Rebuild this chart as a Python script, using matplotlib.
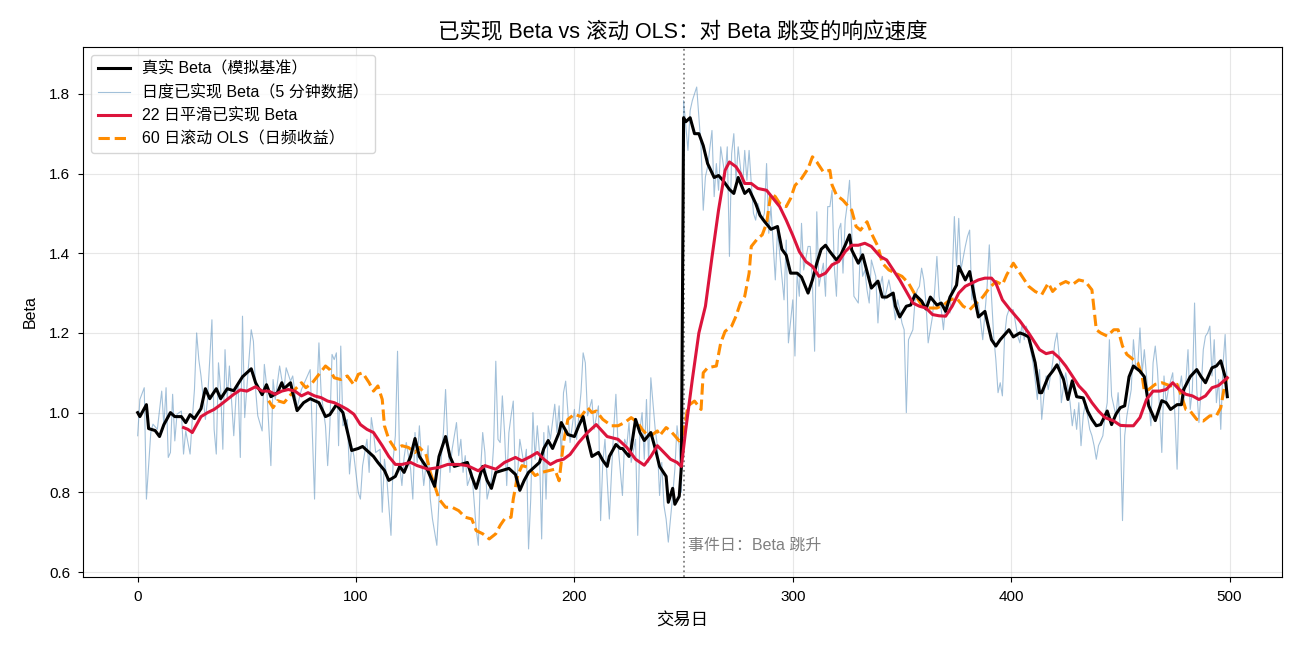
import numpy as np
import matplotlib
matplotlib.use("Agg")
import matplotlib.pyplot as plt

plt.rcParams['font.family'] = ['Liberation Sans', 'Noto Sans CJK SC', 'DejaVu Sans']
plt.rcParams['axes.unicode_minus'] = False

## 真实 Beta（模拟基准）
true_days = [0, 1, 4, 5, 8, 10, 12, 15, 17, 20, 22, 24, 26, 29, 31, 33, 36, 38, 41, 44,
             48, 52, 54, 57, 59, 61, 64, 66, 67, 70, 71, 73, 76, 79, 83, 86, 88, 91, 94, 97,
             98, 101, 103, 106, 108, 110, 113, 115, 118, 120, 122, 125, 127, 129, 132, 134, 136, 138, 141, 143,
             145, 148, 151, 153, 155, 158, 160, 162, 164, 167, 170, 173, 175, 177, 179, 181, 184, 186, 188, 190,
             193, 194, 197, 200, 202, 204, 206, 208, 211, 213, 215, 216, 219, 221, 222, 225, 226, 228, 230, 232,
             235, 237, 239, 242, 243, 245, 246, 248, 249, 250, 251, 253, 255, 257, 259, 261, 264, 266, 268, 271,
             273, 275, 278, 280, 283, 285, 287, 290, 293, 295, 297, 299, 302, 304, 307, 309, 311, 313, 315, 317,
             320, 322, 324, 326, 327, 330, 332, 334, 336, 339, 341, 343, 346, 347, 349, 352, 354, 356, 359, 361,
             363, 366, 368, 370, 372, 375, 376, 379, 381, 383, 385, 388, 391, 393, 395, 399, 401, 404, 406, 408,
             411, 413, 414, 417, 419, 421, 424, 426, 428, 430, 433, 435, 437, 439, 441, 444, 446, 448, 450, 452,
             454, 456, 459, 461, 463, 466, 469, 471, 473, 476, 478, 479, 482, 485, 487, 489, 492, 494, 496, 498,
             499]
true_beta = [1.0, 0.99, 1.02, 0.96, 0.955, 0.94, 0.97, 1.0, 0.99, 0.99, 0.975, 0.995, 0.985, 1.01, 1.06, 1.035, 1.06, 1.035, 1.06, 1.055,
             1.09, 1.11, 1.075, 1.045, 1.07, 1.04, 1.05, 1.075, 1.06, 1.075, 1.05, 1.005, 1.025, 1.035, 1.025, 0.99, 0.995, 1.02, 1.0, 0.93,
             0.905, 0.91, 0.915, 0.90, 0.89, 0.875, 0.855, 0.83, 0.84, 0.865, 0.85, 0.89, 0.935, 0.89, 0.865, 0.84, 0.815, 0.89, 0.94, 0.89,
             0.865, 0.87, 0.875, 0.84, 0.81, 0.865, 0.83, 0.81, 0.85, 0.855, 0.86, 0.845, 0.805, 0.83, 0.85, 0.86, 0.875, 0.91, 0.93, 0.91,
             0.95, 0.975, 0.945, 0.94, 0.967, 0.99, 0.935, 0.89, 0.90, 0.88, 0.865, 0.89, 0.92, 0.91, 0.91, 0.89, 0.91, 0.983, 0.95, 0.93,
             0.95, 0.91, 0.865, 0.84, 0.775, 0.81, 0.77, 0.79, 0.865, 1.74, 1.73, 1.74, 1.70, 1.70, 1.67, 1.625, 1.59, 1.595, 1.583, 1.56,
             1.55, 1.59, 1.55, 1.56, 1.525, 1.495, 1.48, 1.46, 1.467, 1.41, 1.395, 1.35, 1.35, 1.34, 1.30, 1.333, 1.375, 1.41, 1.42, 1.404,
             1.383, 1.396, 1.42, 1.446, 1.408, 1.375, 1.396, 1.354, 1.3125, 1.33, 1.29, 1.29, 1.30, 1.267, 1.24, 1.267, 1.27, 1.296, 1.28, 1.26,
             1.29, 1.27, 1.275, 1.254, 1.29, 1.32, 1.367, 1.333, 1.354, 1.296, 1.24, 1.254, 1.183, 1.167, 1.183, 1.208, 1.19, 1.20, 1.196, 1.19,
             1.125, 1.05, 1.05, 1.09, 1.104, 1.12, 1.083, 1.033, 1.08, 1.04, 1.037, 1.004, 0.983, 0.967, 0.97, 1.004, 0.97, 0.996, 1.0125, 1.017,
             1.09, 1.117, 1.104, 1.09, 1.017, 0.98, 1.03, 1.025, 1.008, 1.02, 1.02, 1.058, 1.09, 1.108, 1.09, 1.075, 1.1125, 1.117, 1.13, 1.09,
             1.04]

## 日度已实现 Beta（5 分钟数据）
daily_days = [0, 1, 3, 4, 6, 7, 9, 11, 12, 13, 14, 15, 16, 17, 18, 20, 21, 22, 24, 25,
              26, 27, 28, 29, 31, 32, 34, 35, 36, 37, 38, 39, 40, 41, 42, 44, 45, 46, 47, 48,
              49, 50, 52, 53, 54, 55, 57, 58, 59, 61, 62, 63, 65, 66, 67, 68, 70, 71, 72, 73,
              75, 77, 79, 81, 82, 83, 84, 86, 87, 88, 89, 90, 91, 92, 93, 94, 96, 97, 98, 99,
              101,
              102, 103, 105, 106, 107, 108, 109, 111, 112, 113, 114, 116, 117, 118, 119, 120, 121, 122, 123, 125,
              126, 127, 128, 129, 130, 131, 133, 134, 135, 136, 137, 138, 139, 140, 141, 142, 143, 144, 146, 147,
              148, 149, 150, 151, 153, 154, 155, 156, 157, 158, 159, 160, 162, 163, 164, 165, 166, 167, 168, 169,
              170, 171, 172, 173, 174, 175, 177, 178, 179, 180, 181, 182, 183, 184, 185, 186, 187, 188, 189, 191,
              192, 193, 194, 195, 196, 197, 198, 199, 200, 201,
              203, 204, 205, 206, 208, 209, 211, 212, 213, 214, 216, 217, 218, 219, 220, 222, 223, 224, 225, 226,
              228, 229, 230, 231, 232, 233, 234, 235, 237, 238, 239, 240, 241, 242, 243, 245, 246, 247, 248, 249,
              250,
              252, 253, 254, 256, 258, 259, 260, 261, 263, 264, 265, 266, 267, 269, 270, 271, 272, 273, 274, 275,
              277, 278, 279, 280, 281, 282, 283, 284, 286, 287, 288, 289, 290, 292, 293, 294, 296, 297, 298, 300,
              301, 302,
              303, 304, 305, 307, 308, 309, 310, 311, 312, 314, 315, 316, 317, 318, 319, 320, 321, 322, 323, 324,
              325, 326, 327, 328, 330, 331, 332, 333, 334, 335, 336, 338, 339, 340, 341, 342, 343, 344, 346, 347,
              348, 349, 350, 351, 352, 353, 355, 356, 357, 358, 359, 360, 361, 362, 364, 365, 366, 367, 368, 369,
              370, 372, 373, 374, 375, 376, 377, 379, 380, 381, 382, 383, 384, 385, 387, 388, 389, 390, 391, 392,
              393, 394, 395, 396, 397, 398, 399, 401, 402, 403,
              404, 405, 406, 407, 408, 410, 411, 412, 413, 414, 415, 416, 417, 419, 420, 421, 422, 423, 424, 425,
              427, 428, 429, 430, 431, 432, 433, 434, 436, 437, 438, 439, 440, 442, 443, 444, 445, 446, 447, 448,
              449, 450, 451, 452, 453, 455, 456, 457, 458, 459, 460, 461, 463, 464, 465, 466, 467, 468, 469, 470,
              471, 472, 474, 475, 476, 477, 478, 479, 480, 481, 482, 483, 484, 485, 486, 487, 488, 489, 490, 491,
              492, 493, 494, 495, 496, 497, 498, 499]
daily_beta = [0.942, 1.033, 1.0625, 0.783, 0.95, 0.971, 0.958, 1.054, 0.967, 1.0625, 0.8875, 0.9, 1.046, 0.929, 0.996, 1.004, 0.896, 0.954, 0.896, 0.983,
              1.058, 1.2, 1.133, 1.092, 0.983, 1.033, 1.233, 0.958, 0.896, 1.125, 1.058, 0.908, 1.158, 1.033, 1.117, 0.942, 1.0375, 1.067, 0.8875, 1.242,
              0.9875, 1.0625, 1.208, 1.179, 1.058, 0.992, 0.954, 1.121, 1.071, 0.867, 1.083, 1.033, 1.117, 1.083, 1.058, 1.1125, 1.079, 1.092, 1.05, 1.0125,
              1.058, 1.083, 1.108, 0.783, 1.033, 1.175, 1.05, 0.967, 0.867, 0.967, 1.146, 1.133, 1.15, 0.917, 1.167, 0.967, 0.983, 0.846, 0.917, 0.892,
              0.8,
              0.783, 0.867, 0.933, 0.85, 0.9875, 0.95, 0.9, 0.908, 0.75, 0.883, 0.842, 0.692, 0.883, 0.942, 1.154, 0.867, 0.817, 0.8875, 0.925, 0.858,
              0.783, 0.95, 0.875, 0.967, 0.883, 0.817, 0.917, 0.783, 0.733, 0.7, 0.667, 0.783, 0.883, 0.95, 1.058, 0.925, 0.85, 0.908, 0.975, 0.892,
              0.933, 0.85, 0.892, 0.817, 0.85, 0.783, 0.708, 0.667, 0.85, 0.95, 0.9, 0.783, 0.833, 0.917, 1.129, 0.933, 0.925, 1.042, 0.95, 0.817,
              0.95, 0.992, 1.029, 0.817, 0.85, 0.933, 0.867, 0.908, 0.658, 0.783, 1.0, 0.883, 0.967, 0.9, 0.683, 0.95, 0.783, 0.967, 0.933, 1.021,
              0.95, 1.017, 0.883, 1.05, 1.079, 1.0, 0.925, 0.967, 1.008, 0.933,
              1.05, 1.15, 1.125, 0.992, 1.033, 0.958, 1.017, 0.729, 0.875, 0.933, 0.733, 0.85, 0.958, 1.046, 0.917, 0.792, 0.933, 0.917, 0.975, 0.875,
              0.933, 0.692, 0.958, 1.0, 0.883, 1.033, 0.875, 1.0875, 0.958, 0.917, 0.792, 0.875, 0.767, 0.733, 0.675, 0.792, 0.858, 0.967, 0.917, 0.8,
              1.783,
              1.658, 1.758, 1.783, 1.817, 1.667, 1.508, 1.592, 1.617, 1.708, 1.542, 1.625, 1.558, 1.667, 1.592, 1.667, 1.392, 1.65, 1.7, 1.583, 1.667,
              1.567, 1.658, 1.583, 1.658, 1.575, 1.5, 1.483, 1.525, 1.483, 1.5, 1.625, 1.45, 1.517, 1.333, 1.458, 1.4, 1.283, 1.433, 1.175, 1.283,
              1.142, 1.35,
              1.292, 1.475, 1.358, 1.417, 1.417, 1.325, 1.154, 1.504, 1.317, 1.375, 1.292, 1.517, 1.517, 1.558, 1.367, 1.292, 1.458, 1.475, 1.35, 1.483,
              1.525, 1.583, 1.458, 1.292, 1.275, 1.417, 1.342, 1.358, 1.308, 1.275, 1.383, 1.342, 1.225, 1.317, 1.342, 1.283, 1.308, 1.333, 1.275, 1.233,
              1.283, 1.258, 1.225, 1.208, 1.0, 1.183, 1.208, 1.283, 1.308, 1.317, 1.3625, 1.333, 1.275, 1.175, 1.242, 1.308, 1.392, 1.292, 1.258, 1.208,
              1.275, 1.25, 1.333, 1.492, 1.367, 1.4875, 1.358, 1.417, 1.442, 1.458, 1.283, 1.325, 1.258, 1.275, 1.183, 1.25, 1.317, 1.421, 1.292, 1.192,
              1.133, 1.05, 1.075, 1.042, 1.192, 1.242, 1.258, 1.258, 1.225, 1.192,
              1.175, 1.225, 1.183, 1.217, 1.183, 1.125, 1.083, 1.033, 1.108, 0.983, 1.042, 1.092, 1.058, 1.125, 1.175, 1.2, 1.142, 1.025, 1.067, 1.1,
              1.025, 0.967, 1.008, 0.958, 1.025, 0.917, 0.992, 1.025, 0.958, 0.942, 0.917, 0.883, 0.917, 0.942, 0.992, 1.025, 1.183, 1.042, 1.017, 0.992,
              1.05, 0.958, 0.729, 0.942, 0.992, 1.058, 1.183, 1.117, 1.117, 1.2125, 1.1, 1.158, 1.025, 0.967, 1.125, 1.167, 1.108, 1.008, 0.9, 1.092,
              1.025, 1.058, 1.1, 0.992, 0.858, 1.058, 1.092, 1.025, 1.075, 1.158, 1.008, 1.058, 1.275, 1.058, 0.975, 1.058, 1.158, 1.192, 1.2, 1.217,
              1.092, 1.183, 1.025, 1.083, 0.958, 1.117, 1.196, 1.058]

## 22 日平滑已实现 Beta
smooth_days = [21, 23, 25, 27, 29, 32, 35, 38, 41, 44, 47, 50, 54, 57, 60, 63, 66, 69, 72, 75,
               78, 81, 84, 87, 90, 93, 96, 99, 102, 105, 108, 112, 115, 118, 121, 125, 128, 133, 138, 142,
               147, 151, 156, 159, 164, 168, 173, 176, 180, 183, 186, 189, 192, 195, 198, 202, 206, 210, 212, 215,
               220, 224, 228, 232, 235, 238, 241, 244, 247, 249, 251, 254, 257, 260, 263, 266, 269, 271, 274, 276,
               278, 281, 284, 288, 291, 294, 297, 300, 303, 306, 309, 312, 315, 318, 321, 324, 327, 330, 333, 336,
               340, 343, 346, 349, 352, 355, 358, 361, 364, 367, 370, 373, 376, 379, 382, 385, 388, 391, 393, 396,
               399, 404, 408, 413, 416, 419, 422, 425, 428, 431, 434, 437, 440, 443, 447, 450, 453, 456, 459, 462,
               465, 468, 471, 474, 477, 480, 483, 486, 489, 492, 495, 499]
smooth_beta = [0.9625, 0.958, 0.95, 0.97, 0.99, 1.0, 1.008, 1.02, 1.033, 1.046, 1.057, 1.054, 1.065, 1.054, 1.054, 1.046, 1.054, 1.058, 1.054, 1.042,
               1.05, 1.042, 1.0375, 1.029, 1.025, 1.017, 1.008, 0.996, 0.97, 0.958, 0.95, 0.917, 0.89, 0.87, 0.87, 0.875, 0.867, 0.858, 0.8625, 0.87,
               0.87, 0.867, 0.854, 0.867, 0.858, 0.875, 0.8875, 0.879, 0.89, 0.90, 0.883, 0.87, 0.879, 0.883, 0.895, 0.925, 0.95, 0.97, 0.958, 0.94,
               0.933, 0.9125, 0.883, 0.868, 0.89, 0.917, 0.90, 0.883, 0.875, 0.865, 0.958, 1.083, 1.2, 1.267, 1.39, 1.508, 1.608, 1.629, 1.617, 1.6,
               1.575, 1.575, 1.5625, 1.558, 1.5375, 1.517, 1.483, 1.445, 1.404, 1.379, 1.367, 1.342, 1.35, 1.371, 1.379, 1.404, 1.42, 1.42, 1.425, 1.417,
               1.392, 1.383, 1.358, 1.333, 1.304, 1.275, 1.267, 1.2625, 1.246, 1.243, 1.242, 1.267, 1.30, 1.317, 1.325, 1.333, 1.3375, 1.3375, 1.325, 1.283,
               1.262, 1.23, 1.2, 1.158, 1.148, 1.152, 1.1375, 1.117, 1.092, 1.067, 1.05, 1.025, 1.004, 0.9875, 0.979, 0.968, 0.967, 0.967, 0.9875, 1.033,
               1.054, 1.054, 1.058, 1.075, 1.058, 1.046, 1.042, 1.033, 1.042, 1.0625, 1.068, 1.0875]

## 60 日滚动 OLS（日频收益）
ols_days = [60, 62, 64, 67, 69, 72, 75, 77, 80, 83, 86, 88, 90, 93, 96, 99, 101, 103, 106, 108,
            110, 112, 113, 115, 118, 121, 124, 127, 129, 132, 134, 136, 138, 141, 144, 147, 150, 153, 155, 158,
            161, 164, 166, 168, 171, 172, 174, 176, 179, 182, 185, 188, 191, 193, 195, 197, 200, 203, 206, 208,
            210, 213, 215, 217, 220, 223, 226, 229, 231, 233, 235, 238, 239, 242, 244, 246, 248, 250, 252, 255,
            258, 259, 261, 265, 267, 269, 272, 274, 276, 278, 280, 281, 284, 286, 288, 290, 292, 294, 297, 299,
            301, 304, 307, 309, 311, 314, 317, 318, 320, 323, 327, 329, 331, 334, 336, 339, 341, 344, 347, 350,
            353, 356, 359, 362, 366, 369, 372, 375, 378, 381, 384, 387, 390, 393, 396, 398, 401, 404, 406, 408,
            411, 414, 417, 419, 422, 425, 428, 431, 434, 437, 438, 439, 441, 444, 447, 449, 451, 453, 456, 458,
            460, 461, 463, 466, 469, 473, 476, 478, 480, 482, 485, 488, 491, 494, 496, 498, 499]
ols_beta = [1.03, 1.0125, 1.03, 1.025, 1.0375, 1.058, 1.075, 1.0625, 1.075, 1.096, 1.117, 1.108, 1.0875, 1.083, 1.092, 1.07, 1.096, 1.1, 1.075, 1.054,
            1.067, 1.033, 0.967, 0.933, 0.908, 0.917, 0.9125, 0.90, 0.9125, 0.896, 0.85, 0.817, 0.783, 0.7625, 0.7625, 0.754, 0.7375, 0.733, 0.704, 0.696,
            0.683, 0.696, 0.717, 0.733, 0.7375, 0.783, 0.842, 0.867, 0.8625, 0.842, 0.85, 0.854, 0.858, 0.829, 0.925, 0.983, 0.996, 0.99, 1.0125, 1.0,
            1.004, 0.983, 0.975, 0.967, 0.967, 0.975, 0.9875, 0.975, 0.958, 0.946, 0.942, 0.954, 0.942, 0.9625, 0.954, 0.942, 0.929, 0.95, 1.017, 1.029,
            1.008, 1.1, 1.1125, 1.117, 1.175, 1.204, 1.217, 1.242, 1.275, 1.292, 1.35, 1.417, 1.4375, 1.446, 1.475, 1.55, 1.542, 1.525, 1.517, 1.5375,
            1.57, 1.5875, 1.6125, 1.642, 1.629, 1.604, 1.608, 1.571, 1.546, 1.533, 1.508, 1.467, 1.458, 1.479, 1.45, 1.417, 1.375, 1.358, 1.35, 1.342,
            1.325, 1.296, 1.27, 1.2625, 1.2625, 1.27, 1.283, 1.2875, 1.267, 1.258, 1.275, 1.29, 1.3125, 1.329, 1.321, 1.346, 1.375, 1.35, 1.333, 1.317,
            1.304, 1.296, 1.325, 1.304, 1.321, 1.329, 1.321, 1.333, 1.329, 1.308, 1.258, 1.208, 1.2, 1.192, 1.208, 1.208, 1.167, 1.146, 1.133, 1.125,
            1.092, 1.054, 1.058, 1.071, 1.075, 1.067, 1.071, 1.042, 1.008, 1.004, 0.983, 0.979, 0.992, 0.992, 1.0125, 1.075, 1.0875]

event_day = 250

fig, ax = plt.subplots(figsize=(13, 6.5), dpi=100)

ax.plot(true_days, true_beta, color='black', lw=2.2, label='真实 Beta（模拟基准）', zorder=4)
ax.plot(daily_days, daily_beta, color='steelblue', lw=0.8, alpha=0.5, label='日度已实现 Beta（5 分钟数据）', zorder=2)
ax.plot(smooth_days, smooth_beta, color='crimson', lw=2.2, label='22 日平滑已实现 Beta', zorder=5)
ax.plot(ols_days, ols_beta, color='darkorange', lw=2.2, ls='--', label='60 日滚动 OLS（日频收益）', zorder=3)

ax.axvline(event_day, color='gray', ls=':', lw=1.3, zorder=1)
ax.text(event_day + 2, 0.657, '事件日：Beta 跳升', color='gray', fontsize=11.5)

ax.set_title('已实现 Beta vs 滚动 OLS：对 Beta 跳变的响应速度', fontsize=15.5)
ax.set_xlabel('交易日', fontsize=12.5, labelpad=6)
ax.set_ylabel('Beta', fontsize=11.5, labelpad=8)
ax.set_ylim(0.587, 1.918)
ax.tick_params(labelsize=11, pad=6)
ax.grid(True, alpha=0.3)
ax.legend(loc='upper left', fontsize=11.5)

fig.subplots_adjust(left=0.064, right=0.986, top=0.928, bottom=0.112)
fig.savefig('out.png', dpi=100)
